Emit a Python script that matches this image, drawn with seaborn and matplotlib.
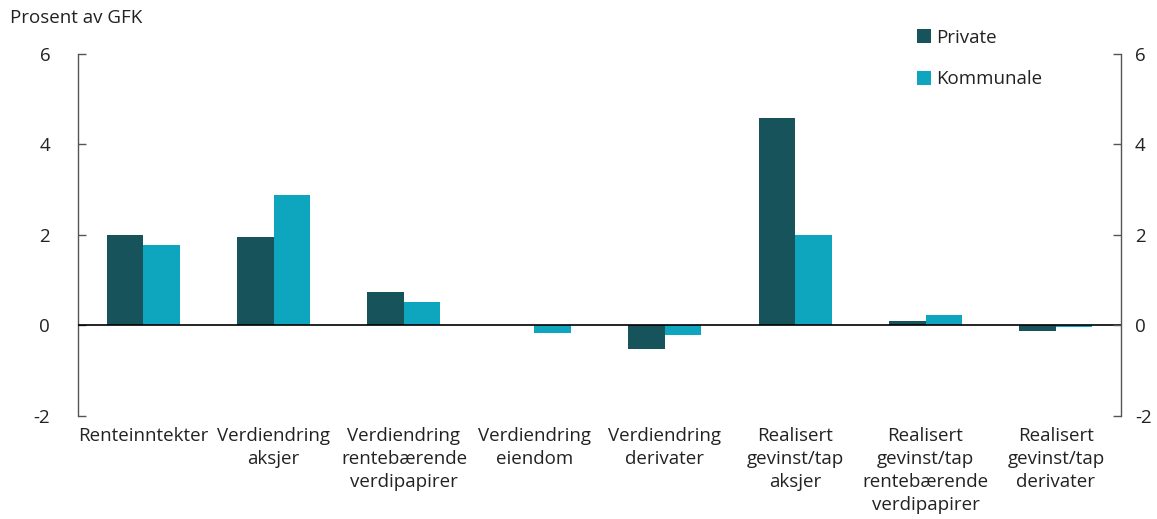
import pandas as pd
import matplotlib
matplotlib.use('Agg')
import matplotlib.pyplot as plt
import seaborn as sns

# --- DATA ---
kategorier = [
    'Renteinntekter',
    'Verdiendring\naksjer',
    'Verdiendring\nrentebærende\nverdipapirer',
    'Verdiendring\neiendom',
    'Verdiendring\nderivater',
    'Realisert\ngevinst/tap\naksjer',
    'Realisert\ngevinst/tap\nrentebærende\nverdipapirer',
    'Realisert\ngevinst/tap\nderivater',
]
private = [1.99, 1.95, 0.75, 0.02, -0.51, 4.59, 0.10, -0.12]
kommunale = [1.77, 2.89, 0.52, -0.17, -0.21, 1.99, 0.24, -0.03]
serier = ['Private', 'Kommunale']
farger = ['#17535b', '#0ea5bf']
yticks = [-2, 0, 2, 4, 6]

df = pd.DataFrame({
    'kategori': kategorier * 2,
    'verdi': private + kommunale,
    'serie': ['Private'] * len(kategorier) + ['Kommunale'] * len(kategorier),
})

sns.set_style('white')
plt.rcParams['font.family'] = ['Open Sans', 'DejaVu Sans']
plt.rcParams['text.color'] = '#222222'
plt.rcParams['axes.unicode_minus'] = False

FS = 13.5
GRA = '#555555'

fig = plt.figure(figsize=(11.57, 5.19), dpi=100)
ax = fig.add_axes([0.0674, 0.1985, 0.9016, 0.6975])

sns.barplot(data=df, x='kategori', y='verdi', hue='serie', hue_order=serier,
            palette=farger, saturation=1, width=0.56, linewidth=0, ax=ax, legend=True)

ax.set_xlim(-0.5, len(kategorier) - 0.5)
ax.set_ylim(-2, 6)
ax.set_yticks(yticks)
ax.axhline(0, color='black', lw=1.2, zorder=5)

# høyre akse med samme skala
ax2 = ax.twinx()
ax2.set_ylim(ax.get_ylim())
ax2.set_yticks(yticks)

for a in [ax, ax2]:
    for side in ['top', 'bottom', 'left', 'right']:
        a.spines[side].set_visible(False)
ax.spines['left'].set_visible(True)
ax2.spines['right'].set_visible(True)
for sp in [ax.spines['left'], ax2.spines['right']]:
    sp.set_color(GRA)
    sp.set_linewidth(1)

ax.tick_params(axis='y', direction='in', length=6, width=1, color=GRA,
               left=True, right=False, labelsize=FS, labelcolor='#222222', pad=20)
ax2.tick_params(axis='y', direction='in', length=6, width=1, color=GRA,
                right=True, left=False, labelsize=FS, labelcolor='#222222', pad=10)
ax.tick_params(axis='x', length=0, labelsize=FS, labelcolor='#222222', pad=8)
for lbl in ax.get_xticklabels():
    lbl.set_linespacing(1.35)
ax.set_xlabel('')
ax.set_ylabel('')

fig.text(10 / 1157, 1 - 18 / 519, 'Prosent av GFK', fontsize=FS, va='center', ha='left')

ax.legend(loc='upper left', bbox_to_anchor=(900 / 1157, 1 - 12 / 519),
          bbox_transform=fig.transFigure, frameon=False, fontsize=FS,
          handlelength=0.75, handleheight=0.75, handletextpad=0.3,
          labelspacing=1.25)

plt.savefig('out.png', dpi=100)
